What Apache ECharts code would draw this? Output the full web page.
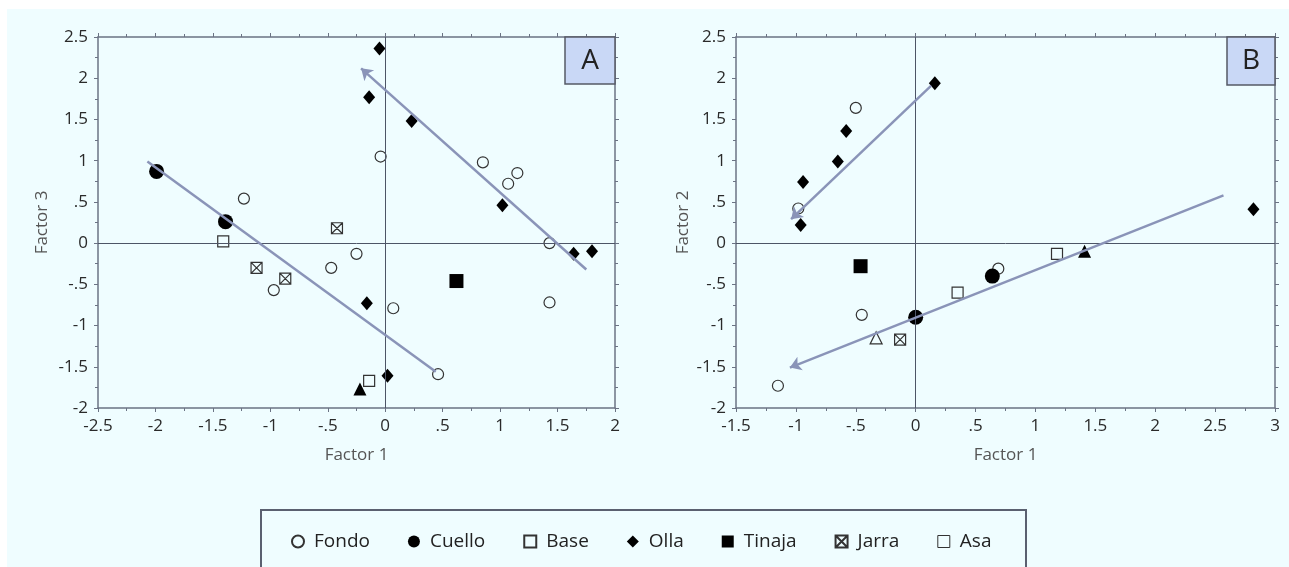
<!DOCTYPE html>
<html>
<head>
<meta charset="utf-8">
<script src="https://cdn.jsdelivr.net/npm/echarts@6/dist/echarts.min.js"></script>
<style>
  html, body { margin: 0; padding: 0; background: #ffffff; }
  #wrap { position: relative; width: 1289px; height: 567px; overflow: hidden; }
  #bg { position: absolute; left: 7px; top: 9px; right: 0; bottom: 0; background: #effdff; }
  #chart { position: absolute; left: 0; top: 0; width: 1289px; height: 567px; }
</style>
</head>
<body>
<div id="wrap"><div id="bg"></div><div id="chart"></div></div>
<script>
// ---------- data ----------
// Panel A: Factor 1 (x) vs Factor 3 (y)
const fondoA  = [[-0.04,1.05],[0.85,0.98],[1.07,0.72],[1.15,0.85],[1.43,0.0],[1.43,-0.72],
                 [-1.23,0.54],[-0.25,-0.13],[-0.47,-0.30],[-0.97,-0.57],[0.07,-0.79],[0.46,-1.59]];
const cuelloA = [[-1.99,0.87],[-1.39,0.26]];
const baseA   = [[-1.41,0.02],[-0.14,-1.67]];
const ollaA   = [[-0.05,2.36],[-0.14,1.77],[0.23,1.48],[1.02,0.46],[1.64,-0.13],[1.80,-0.10],
                 [-0.16,-0.73],[0.02,-1.61]];
const tinajaA = [[0.62,-0.46]];
const jarraA  = [[-0.42,0.18],[-1.12,-0.30],[-0.87,-0.43]];
const asaA    = [[-0.22,-1.77]];
const trendA1 = [[1.75,-0.32],[-0.21,2.12]];   // arrow
const trendA2 = [[-2.07,0.99],[0.44,-1.56]];

// Panel B: Factor 1 (x) vs Factor 2 (y)
const fondoB  = [[-0.50,1.64],[-0.98,0.42],[-0.45,-0.87],[-1.15,-1.73],[0.69,-0.31]];
const cuelloB = [[0.64,-0.40],[0.0,-0.90]];
const baseB   = [[0.35,-0.60],[1.18,-0.13]];
const ollaB   = [[0.16,1.94],[-0.58,1.36],[-0.65,0.99],[-0.94,0.74],[-0.96,0.22],[2.82,0.41]];
const tinajaB = [[-0.46,-0.28]];
const jarraB  = [[-0.13,-1.17]];
const asaB    = [[1.41,-0.10]];
const asaOpenB = [[-0.33,-1.15]];
const trendB1 = [[0.13,1.91],[-1.04,0.29]];    // arrow
const trendB2 = [[2.57,0.58],[-1.05,-1.51]];   // arrow

// tick labels
const xTicksA = ['-2.5','-2','-1.5','-1','-.5','0','.5','1','1.5','2'];
const xTicksB = ['-1.5','-1','-.5','0','.5','1','1.5','2','2.5','3'];
const yTicks  = ['-2','-1.5','-1','-.5','0','.5','1','1.5','2','2.5'];
const legendNames = ['Fondo','Cuello','Base','Olla','Tinaja','Jarra','Asa'];

// ---------- styling ----------
const BG = '#effdff';
const FONT = 'Open Sans';
const AXC = '#6b7384';
const INK = '#000000';
const LINEC = '#8a94b8';

function labelFrom(arr, min) {
  return function (v) { const i = Math.round((v - min) / 0.5); return arr[i] !== undefined ? arr[i] : ''; };
}
function axisCommon(min, max) {
  return {
    min: min, max: max, interval: 0.5, type: 'value',
    splitLine: { show: false },
    axisLine: { show: true, onZero: false, lineStyle: { color: AXC, width: 1.5 } },
    axisTick: { show: true, inside: false, length: 4, lineStyle: { color: AXC, width: 1 } },
    minorTick: { show: true, splitNumber: 2, length: 3, lineStyle: { color: AXC, width: 1 } },
    minorSplitLine: { show: false }
  };
}
function xAxisMain(grid, min, max, labels) {
  return Object.assign(axisCommon(min, max), {
    gridIndex: grid, position: 'bottom',
    name: 'Factor 1', nameLocation: 'middle', nameGap: 39,
    nameTextStyle: { fontFamily: FONT, fontSize: 17, color: '#555' },
    axisLabel: { show: true, margin: 10, fontFamily: FONT, fontSize: 17, color: '#2a2a2a', formatter: labelFrom(labels, min) }
  });
}
function xAxisTop(grid, min, max) {
  return Object.assign(axisCommon(min, max), { gridIndex: grid, position: 'top', axisLabel: { show: false } });
}
function yAxisMain(grid, name, gap) {
  return Object.assign(axisCommon(-2, 2.5), {
    gridIndex: grid, position: 'left',
    name: name, nameLocation: 'middle', nameGap: gap, nameRotate: 90,
    nameTextStyle: { fontFamily: FONT, fontSize: 17, color: '#555' },
    axisLabel: { show: true, margin: 10, fontFamily: FONT, fontSize: 17, color: '#2a2a2a', formatter: labelFrom(yTicks, -2) }
  });
}
function yAxisRight(grid) {
  return Object.assign(axisCommon(-2, 2.5), { gridIndex: grid, position: 'right', axisLabel: { show: false } });
}

const openStyle = { color: BG, borderColor: '#333', borderWidth: 1.2, opacity: 1 };
const fillStyle = { color: INK, opacity: 1 };
const jarraPath = 'path://M0,0H10V10H0Z M0,0L10,10 M10,0L0,10';

function scatter(name, data, xi, symbol, size, style) {
  return { name: name, type: 'scatter', xAxisIndex: xi, yAxisIndex: xi, data: data,
           symbol: symbol, symbolSize: size, itemStyle: style, z: 3 };
}
function trend(data, xi, arrow) {
  return { type: 'lines', coordinateSystem: 'cartesian2d', xAxisIndex: xi, yAxisIndex: xi,
           symbol: ['none', arrow ? 'arrow' : 'none'], symbolSize: [0, 11],
           lineStyle: { color: LINEC, width: 2.5, opacity: 1, curveness: 0 },
           data: [{ coords: data }], z: 6, silent: true };
}
function zeroLines(xi) {
  return { type: 'scatter', xAxisIndex: xi, yAxisIndex: xi, data: [], silent: true, z: 1,
           markLine: { silent: true, symbol: 'none', label: { show: false },
                       lineStyle: { color: '#4d5566', width: 1, type: 'solid' },
                       data: [{ xAxis: 0 }, { yAxis: 0 }] } };
}

const series = [
  zeroLines(0), zeroLines(2),
  scatter('Fondo', fondoA, 0, 'circle', 11, openStyle),
  scatter('Fondo', fondoB, 2, 'circle', 11, openStyle),
  scatter('Cuello', cuelloA, 0, 'circle', 15, fillStyle),
  scatter('Cuello', cuelloB, 2, 'circle', 15, fillStyle),
  scatter('Base', baseA, 0, 'rect', 11, openStyle),
  scatter('Base', baseB, 2, 'rect', 11, openStyle),
  scatter('Olla', ollaA, 0, 'diamond', [12, 14], fillStyle),
  scatter('Olla', ollaB, 2, 'diamond', [12, 14], fillStyle),
  scatter('Tinaja', tinajaA, 0, 'rect', 14, fillStyle),
  scatter('Tinaja', tinajaB, 2, 'rect', 14, fillStyle),
  scatter('Jarra', jarraA, 0, jarraPath, 11, openStyle),
  scatter('Jarra', jarraB, 2, jarraPath, 11, openStyle),
  scatter('Asa', asaA, 0, 'triangle', 13, fillStyle),
  scatter('Asa', asaB, 2, 'triangle', 13, fillStyle),
  scatter('Asa', asaOpenB, 2, 'triangle', 12, openStyle),
  trend(trendA1, 0, true), trend(trendA2, 0, false),
  trend(trendB1, 2, true), trend(trendB2, 2, true)
];

const legendData = legendNames.map(function (n) {
  if (n === 'Asa') return { name: n, icon: 'rect', itemStyle: { color: BG, borderColor: '#333', borderWidth: 1, opacity: 1 } };
  return { name: n };
});

const option = {
  animation: false,
  backgroundColor: 'transparent',
  textStyle: { fontFamily: FONT },
  grid: [
    { left: 98, top: 37, width: 517, height: 371 },
    { left: 736, top: 37, width: 539, height: 371 }
  ],
  xAxis: [ xAxisMain(0, -2.5, 2, xTicksA), xAxisTop(0, -2.5, 2), xAxisMain(1, -1.5, 3, xTicksB), xAxisTop(1, -1.5, 3) ],
  yAxis: [ yAxisMain(0, 'Factor 3', 47), yAxisRight(0), yAxisMain(1, 'Factor 2', 44), yAxisRight(1) ],
  legend: {
    data: legendData, left: 286, top: 527, itemGap: 38, itemWidth: 12, itemHeight: 12,
    textStyle: { fontFamily: FONT, fontSize: 19, color: '#222', padding: [0, 0, 0, 5] }, selectedMode: false
  },
  graphic: [
    { type: 'rect', shape: { x: 261, y: 510, width: 765, height: 80 }, style: { fill: 'none', stroke: '#5a6070', lineWidth: 2 }, z: 10 },
    { type: 'rect', shape: { x: 565, y: 37, width: 50, height: 47 }, style: { fill: '#c9d8f6', stroke: '#555a66', lineWidth: 1.5 }, z: 10 },
    { type: 'text', x: 590, y: 61, style: { text: 'A', fontFamily: FONT, fontSize: 28, fill: '#222', align: 'center', verticalAlign: 'middle' }, z: 11 },
    { type: 'rect', shape: { x: 1227, y: 37, width: 48, height: 48 }, style: { fill: '#c9d8f6', stroke: '#555a66', lineWidth: 1.5 }, z: 10 },
    { type: 'text', x: 1251, y: 61, style: { text: 'B', fontFamily: FONT, fontSize: 28, fill: '#222', align: 'center', verticalAlign: 'middle' }, z: 11 }
  ],
  series: series
};

const chart = echarts.init(document.getElementById('chart'), null, { renderer: 'canvas' });
chart.setOption(option);
</script>
</body>
</html>
